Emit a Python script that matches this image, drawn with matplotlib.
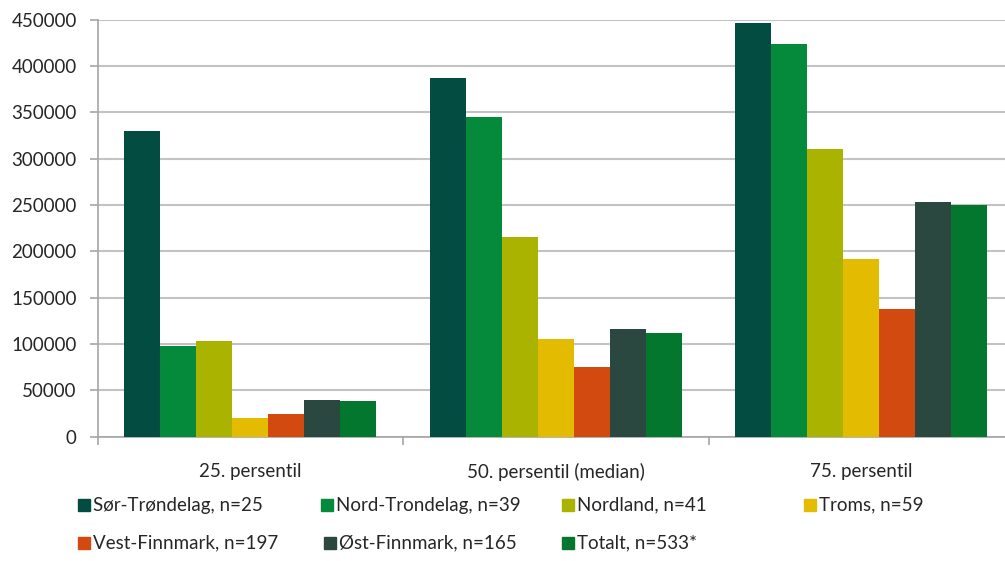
import numpy as np
import matplotlib
matplotlib.use('Agg')
import matplotlib.pyplot as plt
from matplotlib.patches import Rectangle

plt.rcParams['font.family'] = ['Lato', 'DejaVu Sans']

# Data
categories = ['25. persentil', '50. persentil (median)', '75. persentil']
series_names = ['Sør-Trøndelag, n=25', 'Nord-Trondelag, n=39', 'Nordland, n=41', 'Troms, n=59',
                'Vest-Finnmark, n=197', 'Øst-Finnmark, n=165', 'Totalt, n=533*']
sor_trondelag = [330000, 387000, 446000]
nord_trondelag = [98000, 345000, 424000]
nordland = [103000, 216000, 310000]
troms = [20000, 105000, 192000]
vest_finnmark = [25000, 75000, 138000]
ost_finnmark = [40000, 116000, 253000]
totalt = [38000, 112000, 250000]
yticks = [0, 50000, 100000, 150000, 200000, 250000, 300000, 350000, 400000, 450000]

series = [sor_trondelag, nord_trondelag, nordland, troms, vest_finnmark, ost_finnmark, totalt]
colors = ['#034C41', '#05893A', '#AAB300', '#E3BB00', '#D24A10', '#2A4840', '#04772F']

W, H = 1005, 561
fig = plt.figure(figsize=(W / 100, H / 100), dpi=100)
# plot area runs off the right edge like in the original screenshot
ax = fig.add_axes([97.5 / W, 1 - 436.7 / H, (1014 - 97.5) / W, 417 / H])

gap = 0.087
bw = (1 - 2 * gap) / len(series)
x = np.arange(len(categories))
for j, vals in enumerate(series):
    ax.bar(x + gap + bw * (j + 0.5), vals, width=bw, color=colors[j], zorder=3)

ax.set_xlim(0, 3)
ax.set_ylim(0, 450000)
ax.set_yticks(yticks)
ax.set_yticklabels([str(v) for v in yticks])
ax.grid(axis='y', color='#C3C3C3', linewidth=1.5, zorder=0)

ax.set_xticks([0, 1, 2, 3])
ax.set_xticklabels([])
ax.set_xticks(x + 0.5, minor=True)
ax.set_xticklabels(categories, minor=True)
ax.tick_params(axis='x', which='major', length=6, color='#A6A6A6', width=1.2, direction='out')
ax.tick_params(axis='x', which='minor', length=0, pad=19, labelsize=13.5, labelcolor='#262626')
ax.tick_params(axis='y', length=6, color='#A6A6A6', width=1.2, pad=9, labelsize=13.5, labelcolor='#262626')

for s in ['top', 'right']:
    ax.spines[s].set_visible(False)
for s in ['left', 'bottom']:
    ax.spines[s].set_color('#A6A6A6')
    ax.spines[s].set_linewidth(1.2)

# legend drawn by hand so the entries sit where they are in the original
leg_x = [78, 321, 562, 804, 78, 324, 562]
leg_y = [505, 505, 505, 505, 543, 543, 543]
sq = 12
for name, col, lx, ly in zip(series_names, colors, leg_x, leg_y):
    fig.patches.append(Rectangle((lx / W, 1 - (ly + sq / 2) / H), sq / W, sq / H,
                                 transform=fig.transFigure, color=col, figure=fig))
    fig.text((lx + sq + 3) / W, 1 - ly / H, name, ha='left', va='center',
             fontsize=13.5, color='#262626')

fig.savefig('out.png', dpi=100)
